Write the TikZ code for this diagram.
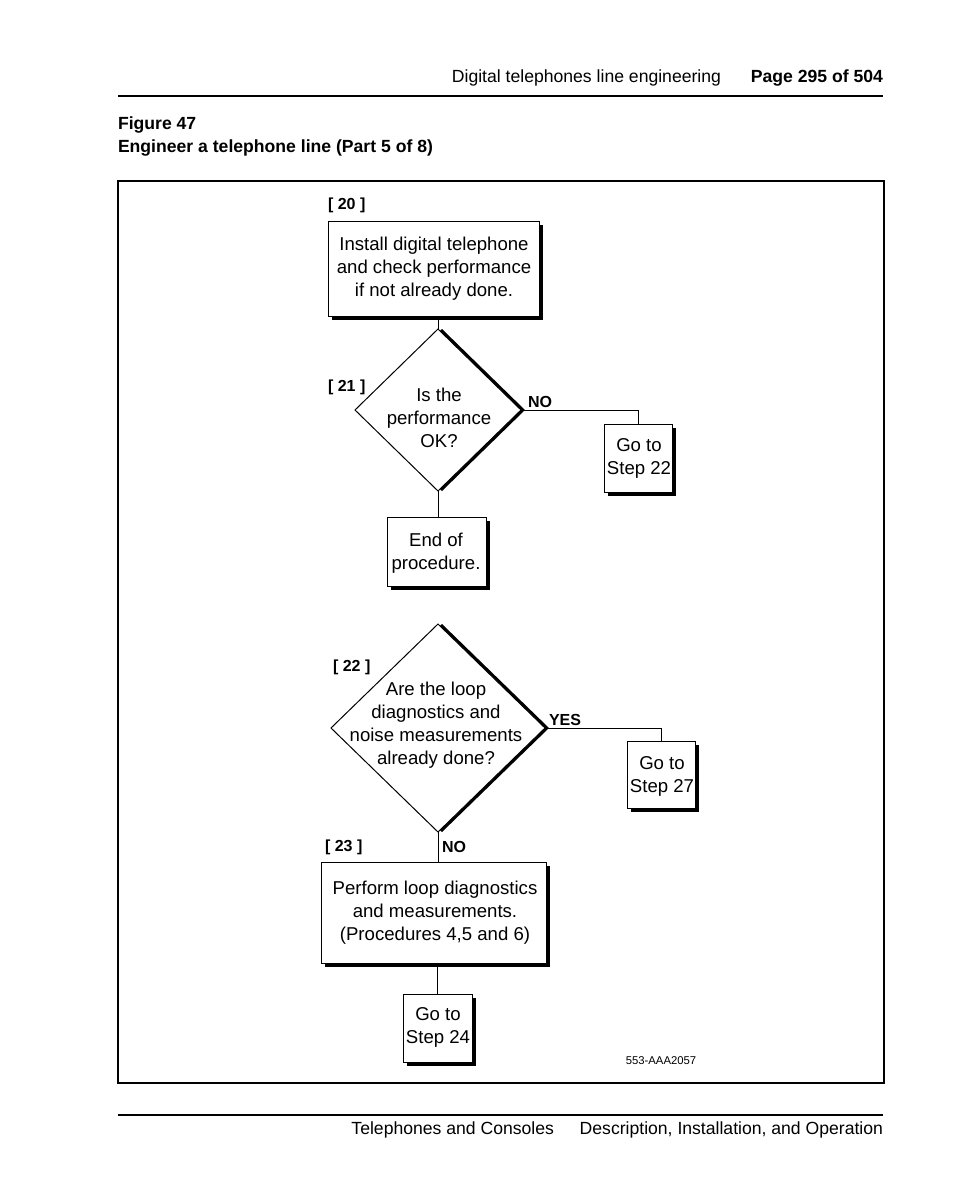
\documentclass[tikz,border=0pt]{standalone}
\usepackage{fontspec}
\setmainfont{Liberation Sans}
\usetikzlibrary{shapes.geometric,shadows}
\begin{document}
\begin{tikzpicture}[x=1pt,y=-1pt,
  every node/.style={inner sep=0pt,outer sep=0pt},
  txt/.style={align=center,font=\fontsize{18.6}{23}\selectfont},
  sbox/.style={draw=black,line width=1pt,fill=white,rectangle,
    drop shadow={shadow xshift=4pt,shadow yshift=-4pt,opacity=1,fill=black}},
  dia/.style={draw=black,line width=1pt,fill=white,diamond,
    drop shadow={shadow xshift=4pt,shadow yshift=0pt,opacity=1,fill=black}},
  lbl/.style={font=\bfseries\fontsize{16}{18}\selectfont,anchor=base west},
  hdr/.style={font=\fontsize{17.6}{20}\selectfont},
  hdrb/.style={font=\bfseries\fontsize{17.6}{20}\selectfont},
  conn/.style={line width=1pt}]
\useasboundingbox (0,0) rectangle (954,1202);
% header
\node[hdr,anchor=base east] (h1) at (721,82) {Digital telephones line engineering};
\node[hdrb,anchor=base east] (h2) at (883,82) {Page 295 of 504};
\draw[line width=2pt] (118,96) -- (883,96);
\node[hdrb,anchor=base west] (f1) at (118,129) {Figure 47};
\node[hdrb,anchor=base west] (f2) at (118,152) {Engineer a telephone line (Part 5 of 8)};
% frame
\draw[line width=1.5pt] (118,181) rectangle (884,1083);
% step 20
\node[sbox,minimum width=211pt,minimum height=95pt] (b20) at (433.5,268.5) {};
\node[txt] (t20) at (434,269) {Install digital telephone\\and check performance\\if not already done.};
\node[lbl] (l20) at (328,209) {[ 20 ]};
% step 21
\node[dia,minimum width=166pt,minimum height=162pt] (d21) at (438,410) {};
\node[txt] (t21) at (439,418) {Is the\\performance\\OK?};
\node[lbl] (l21) at (328,391) {[ 21 ]};
\node[lbl] (no21) at (528,407) {NO};
\node[sbox,minimum width=68pt,minimum height=68pt] (g22) at (638,458) {};
\node[txt] (tg22) at (639,458) {Go to\\Step 22};
\node[sbox,minimum width=99pt,minimum height=69pt] (e21) at (436.5,551.5) {};
\node[txt] (te21) at (436,553) {End of\\procedure.};
% step 22
\node[dia,minimum width=214pt,minimum height=208pt] (d22) at (438,728) {};
\node[txt] (t22) at (436,725) {Are the loop\\diagnostics and\\noise measurements\\already done?};
\node[lbl] (l22) at (333,671) {[ 22 ]};
\node[lbl] (yes22) at (549,725) {YES};
\node[sbox,minimum width=68pt,minimum height=67pt] (g27) at (661,774.5) {};
\node[txt] (tg27) at (662,776) {Go to\\Step 27};
% step 23
\node[lbl] (l23) at (325,851) {[ 23 ]};
\node[lbl] (no22) at (442,852) {NO};
\node[sbox,minimum width=225pt,minimum height=101pt] (b23) at (433.5,912.5) {};
\node[txt] (t23) at (435,913) {Perform loop diagnostics\\and measurements.\\(Procedures 4,5 and 6)};
\node[sbox,minimum width=69pt,minimum height=68pt] (g24) at (437.5,1028) {};
\node[txt] (tg24) at (438,1027) {Go to\\Step 24};
\node[font=\fontsize{11.3}{13}\selectfont] (code) at (661,1061) {553-AAA2057};
% connectors
\draw[conn] (b20.south -| d21.north) -- (d21.north);
\draw[conn] (d21.east) -| (g22.north);
\draw[conn] (d21.south) -- (d21.south |- e21.north);
\draw[conn] (d22.east) -| (g27.north);
\draw[conn] (d22.south) -- (d22.south |- b23.north);
\draw[conn] (b23.south -| g24.north) -- (g24.north);
% footer
\draw[line width=1.5pt] (118,1115) -- (883,1115);
\node[hdr,anchor=base east] (ft1) at (554,1134) {Telephones and Consoles};
\node[hdr,anchor=base east] (ft2) at (883,1134) {Description, Installation, and Operation};
\end{tikzpicture}
\end{document}
